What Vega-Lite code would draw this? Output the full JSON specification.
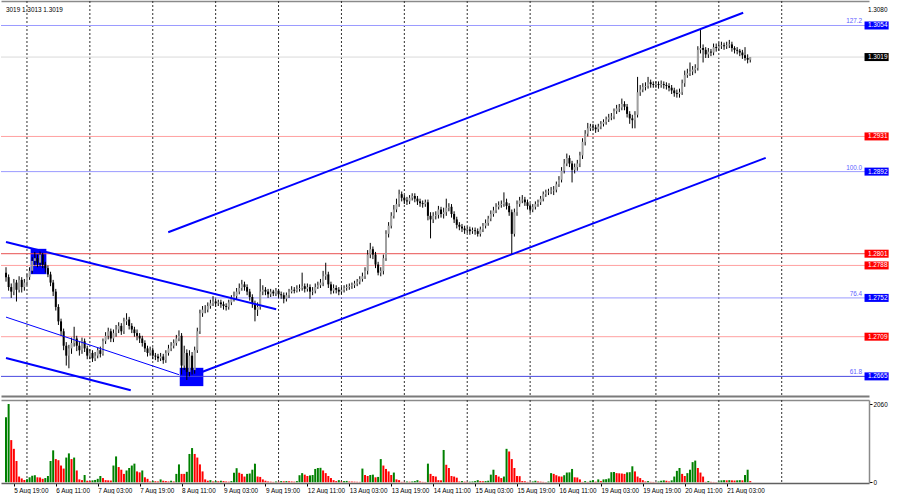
{
"$schema":"https://vega.github.io/schema/vega-lite/v6.json",
"padding":0,
"background":"white",
"spacing":2,
"config":{"font":"Liberation Sans","view":{"stroke":null},"axis":{"labelFont":"Liberation Sans","labelFontSize":6.4,"labelColor":"#000000","tickColor":"#000000","grid":false}},
"datasets":{
"seps":[{"i":8},{"i":32},{"i":56},{"i":80},{"i":104},{"i":128},{"i":152},{"i":176},{"i":200},{"i":224},{"i":248},{"i":272},{"i":296}],
"boxes":[{"i1":9.4,"i2":15.4,"p1":1.28064,"p2":1.27783},{"i1":66.3,"i2":75.3,"p1":1.26745,"p2":1.26542}],
"levels":[{"p":1.3054,"k":"fib","t":"127.2"},{"p":1.3019,"k":"cur"},{"p":1.2931,"k":"res"},{"p":1.2892,"k":"fib","t":"100.0"},{"p":1.2801,"k":"res2"},{"p":1.2788,"k":"res"},{"p":1.2752,"k":"fib","t":"76.4"},{"p":1.2709,"k":"res"},{"p":1.2665,"k":"fib618","t":"61.8"}],
"trend":[{"n":"up","i":61.9,"p":1.28248},{"n":"up","i":281.3,"p":1.30681},{"n":"lo","i":75.0,"p":1.26701},{"n":"lo","i":289.9,"p":1.29073},{"n":"dU","i":0,"p":1.2814},{"n":"dU","i":103.1,"p":1.27394},{"n":"dL","i":0,"p":1.26853},{"n":"dL","i":47.6,"p":1.26496},{"n":"thin","i":0,"p":1.27307},{"n":"thin","i":66.0,"p":1.26669}],
"bars":[
{"i":0,"o":1.2780,"h":1.2786,"l":1.2770,"c":1.2775,"v":1710,"g":1},
{"i":1,"o":1.2775,"h":1.2778,"l":1.2760,"c":1.2764,"v":2060,"g":1},
{"i":2,"o":1.2764,"h":1.2768,"l":1.2752,"c":1.2759,"v":1110,"g":0},
{"i":3,"o":1.2759,"h":1.2773,"l":1.2755,"c":1.2769,"v":880,"g":0},
{"i":4,"o":1.2769,"h":1.2772,"l":1.2748,"c":1.2761,"v":560,"g":0},
{"i":5,"o":1.2761,"h":1.2776,"l":1.2758,"c":1.2772,"v":150,"g":0},
{"i":6,"o":1.2772,"h":1.2775,"l":1.2758,"c":1.2764,"v":100,"g":0},
{"i":7,"o":1.2764,"h":1.2773,"l":1.2760,"c":1.2769,"v":60,"g":0},
{"i":8,"o":1.2769,"h":1.2778,"l":1.2766,"c":1.2775,"v":80,"g":1},
{"i":9,"o":1.2775,"h":1.2786,"l":1.2772,"c":1.2782,"v":130,"g":1},
{"i":10,"o":1.2782,"h":1.2797,"l":1.2779,"c":1.2793,"v":170,"g":1},
{"i":11,"o":1.2793,"h":1.2803,"l":1.2788,"c":1.2796,"v":185,"g":1},
{"i":12,"o":1.2796,"h":1.2800,"l":1.2786,"c":1.2791,"v":130,"g":0},
{"i":13,"o":1.2791,"h":1.2804,"l":1.2787,"c":1.2800,"v":125,"g":0},
{"i":14,"o":1.2800,"h":1.2802,"l":1.2785,"c":1.2789,"v":90,"g":0},
{"i":15,"o":1.2789,"h":1.2792,"l":1.2780,"c":1.2785,"v":110,"g":1},
{"i":16,"o":1.2785,"h":1.2788,"l":1.2775,"c":1.2778,"v":165,"g":1},
{"i":17,"o":1.2778,"h":1.2781,"l":1.2765,"c":1.2769,"v":560,"g":1},
{"i":18,"o":1.2769,"h":1.2772,"l":1.2754,"c":1.2759,"v":840,"g":1},
{"i":19,"o":1.2759,"h":1.2762,"l":1.2738,"c":1.2742,"v":610,"g":0},
{"i":20,"o":1.2742,"h":1.2745,"l":1.2722,"c":1.2726,"v":580,"g":0},
{"i":21,"o":1.2726,"h":1.2729,"l":1.2710,"c":1.2715,"v":440,"g":0},
{"i":22,"o":1.2715,"h":1.2718,"l":1.2694,"c":1.2699,"v":360,"g":0},
{"i":23,"o":1.2699,"h":1.2703,"l":1.2677,"c":1.2688,"v":650,"g":1},
{"i":24,"o":1.2688,"h":1.2700,"l":1.2674,"c":1.2696,"v":760,"g":1},
{"i":25,"o":1.2696,"h":1.2708,"l":1.2690,"c":1.2702,"v":610,"g":0},
{"i":26,"o":1.2702,"h":1.2720,"l":1.2698,"c":1.2707,"v":650,"g":1},
{"i":27,"o":1.2707,"h":1.2710,"l":1.2693,"c":1.2699,"v":310,"g":0},
{"i":28,"o":1.2699,"h":1.2703,"l":1.2688,"c":1.2694,"v":75,"g":0},
{"i":29,"o":1.2694,"h":1.2708,"l":1.2690,"c":1.2704,"v":55,"g":0},
{"i":30,"o":1.2704,"h":1.2707,"l":1.2692,"c":1.2696,"v":190,"g":1},
{"i":31,"o":1.2696,"h":1.2699,"l":1.2684,"c":1.2688,"v":40,"g":0},
{"i":32,"o":1.2688,"h":1.2695,"l":1.2684,"c":1.2691,"v":30,"g":0},
{"i":33,"o":1.2691,"h":1.2694,"l":1.2681,"c":1.2685,"v":50,"g":1},
{"i":34,"o":1.2685,"h":1.2692,"l":1.2682,"c":1.2688,"v":60,"g":1},
{"i":35,"o":1.2688,"h":1.2697,"l":1.2685,"c":1.2694,"v":90,"g":1},
{"i":36,"o":1.2694,"h":1.2698,"l":1.2686,"c":1.2690,"v":165,"g":1},
{"i":37,"o":1.2690,"h":1.2707,"l":1.2688,"c":1.2704,"v":110,"g":0},
{"i":38,"o":1.2704,"h":1.2714,"l":1.2701,"c":1.2710,"v":55,"g":0},
{"i":39,"o":1.2710,"h":1.2719,"l":1.2706,"c":1.2715,"v":50,"g":0},
{"i":40,"o":1.2715,"h":1.2718,"l":1.2703,"c":1.2707,"v":45,"g":0},
{"i":41,"o":1.2707,"h":1.2717,"l":1.2703,"c":1.2713,"v":440,"g":1},
{"i":42,"o":1.2713,"h":1.2722,"l":1.2709,"c":1.2717,"v":680,"g":1},
{"i":43,"o":1.2717,"h":1.2725,"l":1.2713,"c":1.2721,"v":400,"g":0},
{"i":44,"o":1.2721,"h":1.2724,"l":1.2711,"c":1.2715,"v":330,"g":0},
{"i":45,"o":1.2715,"h":1.2730,"l":1.2712,"c":1.2726,"v":220,"g":0},
{"i":46,"o":1.2726,"h":1.2735,"l":1.2722,"c":1.2728,"v":310,"g":1},
{"i":47,"o":1.2728,"h":1.2731,"l":1.2717,"c":1.2721,"v":375,"g":1},
{"i":48,"o":1.2721,"h":1.2724,"l":1.2713,"c":1.2717,"v":440,"g":1},
{"i":49,"o":1.2717,"h":1.2720,"l":1.2709,"c":1.2713,"v":490,"g":1},
{"i":50,"o":1.2713,"h":1.2717,"l":1.2705,"c":1.2710,"v":285,"g":0},
{"i":51,"o":1.2710,"h":1.2713,"l":1.2702,"c":1.2707,"v":260,"g":0},
{"i":52,"o":1.2707,"h":1.2710,"l":1.2698,"c":1.2702,"v":310,"g":1},
{"i":53,"o":1.2702,"h":1.2705,"l":1.2692,"c":1.2696,"v":130,"g":0},
{"i":54,"o":1.2696,"h":1.2699,"l":1.2687,"c":1.2691,"v":90,"g":0},
{"i":55,"o":1.2691,"h":1.2698,"l":1.2688,"c":1.2694,"v":20,"g":0},
{"i":56,"o":1.2694,"h":1.2697,"l":1.2684,"c":1.2688,"v":30,"g":1},
{"i":57,"o":1.2688,"h":1.2691,"l":1.2683,"c":1.2687,"v":25,"g":0},
{"i":58,"o":1.2687,"h":1.2690,"l":1.2681,"c":1.2685,"v":20,"g":0},
{"i":59,"o":1.2685,"h":1.2691,"l":1.2682,"c":1.2687,"v":75,"g":1},
{"i":60,"o":1.2687,"h":1.2690,"l":1.2679,"c":1.2683,"v":40,"g":0},
{"i":61,"o":1.2683,"h":1.2694,"l":1.2680,"c":1.2691,"v":30,"g":0},
{"i":62,"o":1.2691,"h":1.2700,"l":1.2688,"c":1.2696,"v":20,"g":0},
{"i":63,"o":1.2696,"h":1.2703,"l":1.2693,"c":1.2699,"v":40,"g":1},
{"i":64,"o":1.2699,"h":1.2706,"l":1.2696,"c":1.2702,"v":20,"g":0},
{"i":65,"o":1.2702,"h":1.2711,"l":1.2699,"c":1.2707,"v":220,"g":1},
{"i":66,"o":1.2707,"h":1.2716,"l":1.2704,"c":1.2710,"v":470,"g":1},
{"i":67,"o":1.2710,"h":1.2713,"l":1.2667,"c":1.2677,"v":220,"g":0},
{"i":68,"o":1.2677,"h":1.2699,"l":1.2672,"c":1.2691,"v":220,"g":0},
{"i":69,"o":1.2691,"h":1.2695,"l":1.2661,"c":1.2670,"v":275,"g":1},
{"i":70,"o":1.2670,"h":1.2694,"l":1.2665,"c":1.2688,"v":745,"g":1},
{"i":71,"o":1.2688,"h":1.2692,"l":1.2667,"c":1.2672,"v":900,"g":1},
{"i":72,"o":1.2672,"h":1.2698,"l":1.2668,"c":1.2694,"v":745,"g":0},
{"i":73,"o":1.2694,"h":1.2719,"l":1.2691,"c":1.2715,"v":650,"g":0},
{"i":74,"o":1.2715,"h":1.2739,"l":1.2712,"c":1.2735,"v":470,"g":0},
{"i":75,"o":1.2735,"h":1.2743,"l":1.2731,"c":1.2739,"v":285,"g":0},
{"i":76,"o":1.2739,"h":1.2744,"l":1.2735,"c":1.2739,"v":75,"g":0},
{"i":77,"o":1.2739,"h":1.2747,"l":1.2736,"c":1.2743,"v":40,"g":0},
{"i":78,"o":1.2743,"h":1.2750,"l":1.2740,"c":1.2746,"v":55,"g":1},
{"i":79,"o":1.2746,"h":1.2754,"l":1.2743,"c":1.2748,"v":20,"g":0},
{"i":80,"o":1.2748,"h":1.2751,"l":1.2742,"c":1.2746,"v":30,"g":1},
{"i":81,"o":1.2746,"h":1.2750,"l":1.2743,"c":1.2747,"v":25,"g":0},
{"i":82,"o":1.2747,"h":1.2750,"l":1.2741,"c":1.2745,"v":40,"g":1},
{"i":83,"o":1.2745,"h":1.2748,"l":1.2739,"c":1.2743,"v":30,"g":0},
{"i":84,"o":1.2743,"h":1.2746,"l":1.2738,"c":1.2742,"v":20,"g":0},
{"i":85,"o":1.2742,"h":1.2750,"l":1.2739,"c":1.2747,"v":15,"g":0},
{"i":86,"o":1.2747,"h":1.2755,"l":1.2744,"c":1.2751,"v":30,"g":1},
{"i":87,"o":1.2751,"h":1.2759,"l":1.2748,"c":1.2754,"v":250,"g":1},
{"i":88,"o":1.2754,"h":1.2763,"l":1.2750,"c":1.2759,"v":370,"g":1},
{"i":89,"o":1.2759,"h":1.2768,"l":1.2756,"c":1.2763,"v":250,"g":0},
{"i":90,"o":1.2763,"h":1.2772,"l":1.2760,"c":1.2767,"v":220,"g":0},
{"i":91,"o":1.2767,"h":1.2770,"l":1.2760,"c":1.2764,"v":150,"g":0},
{"i":92,"o":1.2764,"h":1.2767,"l":1.2755,"c":1.2759,"v":220,"g":1},
{"i":93,"o":1.2759,"h":1.2762,"l":1.2749,"c":1.2753,"v":230,"g":1},
{"i":94,"o":1.2753,"h":1.2756,"l":1.2741,"c":1.2746,"v":330,"g":1},
{"i":95,"o":1.2746,"h":1.2749,"l":1.2726,"c":1.2739,"v":490,"g":1},
{"i":96,"o":1.2739,"h":1.2747,"l":1.2732,"c":1.2742,"v":150,"g":0},
{"i":97,"o":1.2742,"h":1.2773,"l":1.2739,"c":1.2759,"v":140,"g":0},
{"i":98,"o":1.2759,"h":1.2766,"l":1.2755,"c":1.2761,"v":75,"g":0},
{"i":99,"o":1.2761,"h":1.2764,"l":1.2755,"c":1.2759,"v":40,"g":0},
{"i":100,"o":1.2759,"h":1.2762,"l":1.2752,"c":1.2756,"v":20,"g":0},
{"i":101,"o":1.2756,"h":1.2762,"l":1.2753,"c":1.2759,"v":15,"g":0},
{"i":102,"o":1.2759,"h":1.2761,"l":1.2754,"c":1.2757,"v":10,"g":0},
{"i":103,"o":1.2757,"h":1.2763,"l":1.2754,"c":1.2760,"v":20,"g":1},
{"i":104,"o":1.2760,"h":1.2762,"l":1.2752,"c":1.2756,"v":15,"g":0},
{"i":105,"o":1.2756,"h":1.2759,"l":1.2751,"c":1.2755,"v":30,"g":1},
{"i":106,"o":1.2755,"h":1.2758,"l":1.2746,"c":1.2751,"v":25,"g":0},
{"i":107,"o":1.2751,"h":1.2758,"l":1.2748,"c":1.2755,"v":30,"g":1},
{"i":108,"o":1.2755,"h":1.2762,"l":1.2752,"c":1.2759,"v":25,"g":0},
{"i":109,"o":1.2759,"h":1.2765,"l":1.2757,"c":1.2761,"v":20,"g":0},
{"i":110,"o":1.2761,"h":1.2764,"l":1.2757,"c":1.2760,"v":15,"g":0},
{"i":111,"o":1.2760,"h":1.2766,"l":1.2758,"c":1.2762,"v":30,"g":1},
{"i":112,"o":1.2762,"h":1.2767,"l":1.2759,"c":1.2763,"v":185,"g":1},
{"i":113,"o":1.2763,"h":1.2780,"l":1.2760,"c":1.2765,"v":240,"g":1},
{"i":114,"o":1.2765,"h":1.2768,"l":1.2758,"c":1.2762,"v":200,"g":0},
{"i":115,"o":1.2762,"h":1.2768,"l":1.2759,"c":1.2764,"v":165,"g":0},
{"i":116,"o":1.2764,"h":1.2767,"l":1.2751,"c":1.2759,"v":180,"g":1},
{"i":117,"o":1.2759,"h":1.2764,"l":1.2755,"c":1.2760,"v":190,"g":1},
{"i":118,"o":1.2760,"h":1.2768,"l":1.2757,"c":1.2764,"v":350,"g":1},
{"i":119,"o":1.2764,"h":1.2770,"l":1.2762,"c":1.2766,"v":375,"g":1},
{"i":120,"o":1.2766,"h":1.2773,"l":1.2763,"c":1.2769,"v":380,"g":1},
{"i":121,"o":1.2769,"h":1.2782,"l":1.2765,"c":1.2776,"v":310,"g":0},
{"i":122,"o":1.2776,"h":1.2791,"l":1.2772,"c":1.2778,"v":240,"g":0},
{"i":123,"o":1.2778,"h":1.2781,"l":1.2763,"c":1.2767,"v":165,"g":0},
{"i":124,"o":1.2767,"h":1.2770,"l":1.2756,"c":1.2760,"v":110,"g":0},
{"i":125,"o":1.2760,"h":1.2767,"l":1.2757,"c":1.2763,"v":55,"g":0},
{"i":126,"o":1.2763,"h":1.2766,"l":1.2757,"c":1.2761,"v":30,"g":0},
{"i":127,"o":1.2761,"h":1.2764,"l":1.2755,"c":1.2759,"v":55,"g":1},
{"i":128,"o":1.2759,"h":1.2764,"l":1.2756,"c":1.2761,"v":20,"g":0},
{"i":129,"o":1.2761,"h":1.2766,"l":1.2758,"c":1.2763,"v":30,"g":1},
{"i":130,"o":1.2763,"h":1.2767,"l":1.2760,"c":1.2764,"v":35,"g":1},
{"i":131,"o":1.2764,"h":1.2768,"l":1.2761,"c":1.2765,"v":20,"g":0},
{"i":132,"o":1.2765,"h":1.2769,"l":1.2762,"c":1.2766,"v":18,"g":0},
{"i":133,"o":1.2766,"h":1.2771,"l":1.2763,"c":1.2768,"v":15,"g":0},
{"i":134,"o":1.2768,"h":1.2773,"l":1.2765,"c":1.2770,"v":12,"g":0},
{"i":135,"o":1.2770,"h":1.2776,"l":1.2767,"c":1.2773,"v":10,"g":0},
{"i":136,"o":1.2773,"h":1.2780,"l":1.2770,"c":1.2776,"v":360,"g":1},
{"i":137,"o":1.2776,"h":1.2786,"l":1.2773,"c":1.2782,"v":190,"g":0},
{"i":138,"o":1.2782,"h":1.2805,"l":1.2778,"c":1.2800,"v":165,"g":0},
{"i":139,"o":1.2800,"h":1.2813,"l":1.2796,"c":1.2806,"v":190,"g":1},
{"i":140,"o":1.2806,"h":1.2809,"l":1.2795,"c":1.2800,"v":200,"g":1},
{"i":141,"o":1.2800,"h":1.2803,"l":1.2785,"c":1.2789,"v":130,"g":0},
{"i":142,"o":1.2789,"h":1.2792,"l":1.2777,"c":1.2780,"v":140,"g":1},
{"i":143,"o":1.2780,"h":1.2786,"l":1.2776,"c":1.2782,"v":610,"g":1},
{"i":144,"o":1.2782,"h":1.2800,"l":1.2778,"c":1.2796,"v":440,"g":0},
{"i":145,"o":1.2796,"h":1.2827,"l":1.2793,"c":1.2823,"v":350,"g":0},
{"i":146,"o":1.2823,"h":1.2836,"l":1.2819,"c":1.2832,"v":285,"g":0},
{"i":147,"o":1.2832,"h":1.2847,"l":1.2829,"c":1.2843,"v":190,"g":0},
{"i":148,"o":1.2843,"h":1.2855,"l":1.2840,"c":1.2850,"v":255,"g":1},
{"i":149,"o":1.2850,"h":1.2862,"l":1.2847,"c":1.2856,"v":75,"g":0},
{"i":150,"o":1.2856,"h":1.2872,"l":1.2853,"c":1.2867,"v":55,"g":0},
{"i":151,"o":1.2867,"h":1.2870,"l":1.2859,"c":1.2863,"v":10,"g":0},
{"i":152,"o":1.2863,"h":1.2866,"l":1.2856,"c":1.2860,"v":10,"g":0},
{"i":153,"o":1.2860,"h":1.2864,"l":1.2855,"c":1.2859,"v":20,"g":1},
{"i":154,"o":1.2859,"h":1.2866,"l":1.2856,"c":1.2863,"v":15,"g":0},
{"i":155,"o":1.2863,"h":1.2868,"l":1.2860,"c":1.2865,"v":20,"g":1},
{"i":156,"o":1.2865,"h":1.2868,"l":1.2858,"c":1.2862,"v":30,"g":1},
{"i":157,"o":1.2862,"h":1.2865,"l":1.2855,"c":1.2859,"v":55,"g":1},
{"i":158,"o":1.2859,"h":1.2862,"l":1.2853,"c":1.2857,"v":20,"g":0},
{"i":159,"o":1.2857,"h":1.2860,"l":1.2852,"c":1.2856,"v":10,"g":0},
{"i":160,"o":1.2856,"h":1.2861,"l":1.2853,"c":1.2858,"v":8,"g":0},
{"i":161,"o":1.2858,"h":1.2861,"l":1.2838,"c":1.2843,"v":490,"g":1},
{"i":162,"o":1.2843,"h":1.2847,"l":1.2818,"c":1.2839,"v":220,"g":0},
{"i":163,"o":1.2839,"h":1.2847,"l":1.2835,"c":1.2843,"v":165,"g":0},
{"i":164,"o":1.2843,"h":1.2848,"l":1.2839,"c":1.2844,"v":150,"g":0},
{"i":165,"o":1.2844,"h":1.2854,"l":1.2840,"c":1.2850,"v":55,"g":0},
{"i":166,"o":1.2850,"h":1.2853,"l":1.2841,"c":1.2845,"v":50,"g":0},
{"i":167,"o":1.2845,"h":1.2852,"l":1.2840,"c":1.2847,"v":850,"g":1},
{"i":168,"o":1.2847,"h":1.2862,"l":1.2843,"c":1.2852,"v":460,"g":0},
{"i":169,"o":1.2852,"h":1.2857,"l":1.2848,"c":1.2853,"v":375,"g":0},
{"i":170,"o":1.2853,"h":1.2856,"l":1.2841,"c":1.2845,"v":165,"g":0},
{"i":171,"o":1.2845,"h":1.2848,"l":1.2835,"c":1.2839,"v":150,"g":0},
{"i":172,"o":1.2839,"h":1.2842,"l":1.2829,"c":1.2833,"v":120,"g":0},
{"i":173,"o":1.2833,"h":1.2836,"l":1.2827,"c":1.2831,"v":20,"g":0},
{"i":174,"o":1.2831,"h":1.2834,"l":1.2825,"c":1.2829,"v":30,"g":1},
{"i":175,"o":1.2829,"h":1.2832,"l":1.2823,"c":1.2827,"v":15,"g":0},
{"i":176,"o":1.2827,"h":1.2831,"l":1.2824,"c":1.2828,"v":10,"g":0},
{"i":177,"o":1.2828,"h":1.2831,"l":1.2822,"c":1.2826,"v":15,"g":1},
{"i":178,"o":1.2826,"h":1.2830,"l":1.2823,"c":1.2827,"v":20,"g":1},
{"i":179,"o":1.2827,"h":1.2830,"l":1.2822,"c":1.2826,"v":30,"g":1},
{"i":180,"o":1.2826,"h":1.2829,"l":1.2820,"c":1.2823,"v":55,"g":1},
{"i":181,"o":1.2823,"h":1.2831,"l":1.2820,"c":1.2828,"v":30,"g":0},
{"i":182,"o":1.2828,"h":1.2835,"l":1.2825,"c":1.2832,"v":25,"g":0},
{"i":183,"o":1.2832,"h":1.2839,"l":1.2829,"c":1.2835,"v":30,"g":1},
{"i":184,"o":1.2835,"h":1.2843,"l":1.2832,"c":1.2840,"v":40,"g":1},
{"i":185,"o":1.2840,"h":1.2849,"l":1.2837,"c":1.2845,"v":200,"g":1},
{"i":186,"o":1.2845,"h":1.2853,"l":1.2842,"c":1.2849,"v":330,"g":1},
{"i":187,"o":1.2849,"h":1.2857,"l":1.2846,"c":1.2853,"v":190,"g":0},
{"i":188,"o":1.2853,"h":1.2859,"l":1.2850,"c":1.2855,"v":150,"g":0},
{"i":189,"o":1.2855,"h":1.2860,"l":1.2852,"c":1.2856,"v":110,"g":0},
{"i":190,"o":1.2856,"h":1.2869,"l":1.2853,"c":1.2858,"v":150,"g":1},
{"i":191,"o":1.2858,"h":1.2862,"l":1.2850,"c":1.2854,"v":880,"g":1},
{"i":192,"o":1.2854,"h":1.2857,"l":1.2843,"c":1.2847,"v":810,"g":0},
{"i":193,"o":1.2847,"h":1.2850,"l":1.2800,"c":1.2823,"v":610,"g":0},
{"i":194,"o":1.2823,"h":1.2851,"l":1.2820,"c":1.2847,"v":375,"g":0},
{"i":195,"o":1.2847,"h":1.2860,"l":1.2843,"c":1.2856,"v":165,"g":0},
{"i":196,"o":1.2856,"h":1.2864,"l":1.2853,"c":1.2860,"v":160,"g":0},
{"i":197,"o":1.2860,"h":1.2866,"l":1.2857,"c":1.2861,"v":30,"g":0},
{"i":198,"o":1.2861,"h":1.2864,"l":1.2854,"c":1.2858,"v":25,"g":0},
{"i":199,"o":1.2858,"h":1.2861,"l":1.2850,"c":1.2854,"v":10,"g":0},
{"i":200,"o":1.2854,"h":1.2857,"l":1.2846,"c":1.2850,"v":8,"g":0},
{"i":201,"o":1.2850,"h":1.2856,"l":1.2847,"c":1.2853,"v":20,"g":1},
{"i":202,"o":1.2853,"h":1.2859,"l":1.2850,"c":1.2856,"v":40,"g":1},
{"i":203,"o":1.2856,"h":1.2861,"l":1.2853,"c":1.2858,"v":20,"g":0},
{"i":204,"o":1.2858,"h":1.2865,"l":1.2855,"c":1.2862,"v":15,"g":0},
{"i":205,"o":1.2862,"h":1.2870,"l":1.2859,"c":1.2867,"v":10,"g":0},
{"i":206,"o":1.2867,"h":1.2872,"l":1.2864,"c":1.2869,"v":5,"g":0},
{"i":207,"o":1.2869,"h":1.2873,"l":1.2866,"c":1.2870,"v":20,"g":1},
{"i":208,"o":1.2870,"h":1.2875,"l":1.2867,"c":1.2871,"v":240,"g":1},
{"i":209,"o":1.2871,"h":1.2876,"l":1.2866,"c":1.2872,"v":220,"g":0},
{"i":210,"o":1.2872,"h":1.2881,"l":1.2869,"c":1.2878,"v":185,"g":0},
{"i":211,"o":1.2878,"h":1.2887,"l":1.2875,"c":1.2883,"v":155,"g":0},
{"i":212,"o":1.2883,"h":1.2897,"l":1.2880,"c":1.2893,"v":150,"g":0},
{"i":213,"o":1.2893,"h":1.2906,"l":1.2890,"c":1.2901,"v":185,"g":1},
{"i":214,"o":1.2901,"h":1.2912,"l":1.2898,"c":1.2907,"v":255,"g":1},
{"i":215,"o":1.2907,"h":1.2910,"l":1.2897,"c":1.2901,"v":260,"g":1},
{"i":216,"o":1.2901,"h":1.2904,"l":1.2880,"c":1.2894,"v":350,"g":1},
{"i":217,"o":1.2894,"h":1.2901,"l":1.2890,"c":1.2897,"v":130,"g":0},
{"i":218,"o":1.2897,"h":1.2905,"l":1.2893,"c":1.2901,"v":125,"g":0},
{"i":219,"o":1.2901,"h":1.2914,"l":1.2897,"c":1.2910,"v":75,"g":0},
{"i":220,"o":1.2910,"h":1.2929,"l":1.2906,"c":1.2925,"v":10,"g":0},
{"i":221,"o":1.2925,"h":1.2938,"l":1.2921,"c":1.2934,"v":30,"g":1},
{"i":222,"o":1.2934,"h":1.2946,"l":1.2931,"c":1.2940,"v":10,"g":0},
{"i":223,"o":1.2940,"h":1.2945,"l":1.2937,"c":1.2942,"v":40,"g":1},
{"i":224,"o":1.2942,"h":1.2945,"l":1.2938,"c":1.2941,"v":55,"g":1},
{"i":225,"o":1.2941,"h":1.2944,"l":1.2935,"c":1.2939,"v":15,"g":0},
{"i":226,"o":1.2939,"h":1.2945,"l":1.2936,"c":1.2942,"v":75,"g":1},
{"i":227,"o":1.2942,"h":1.2948,"l":1.2939,"c":1.2945,"v":30,"g":0},
{"i":228,"o":1.2945,"h":1.2950,"l":1.2942,"c":1.2947,"v":75,"g":1},
{"i":229,"o":1.2947,"h":1.2953,"l":1.2944,"c":1.2950,"v":80,"g":1},
{"i":230,"o":1.2950,"h":1.2956,"l":1.2947,"c":1.2952,"v":100,"g":1},
{"i":231,"o":1.2952,"h":1.2957,"l":1.2949,"c":1.2953,"v":265,"g":1},
{"i":232,"o":1.2953,"h":1.2962,"l":1.2950,"c":1.2959,"v":270,"g":1},
{"i":233,"o":1.2959,"h":1.2966,"l":1.2956,"c":1.2962,"v":240,"g":0},
{"i":234,"o":1.2962,"h":1.2967,"l":1.2958,"c":1.2963,"v":235,"g":0},
{"i":235,"o":1.2963,"h":1.2973,"l":1.2960,"c":1.2967,"v":230,"g":0},
{"i":236,"o":1.2967,"h":1.2970,"l":1.2960,"c":1.2964,"v":220,"g":0},
{"i":237,"o":1.2964,"h":1.2967,"l":1.2952,"c":1.2956,"v":260,"g":1},
{"i":238,"o":1.2956,"h":1.2959,"l":1.2945,"c":1.2951,"v":265,"g":1},
{"i":239,"o":1.2951,"h":1.2955,"l":1.2940,"c":1.2949,"v":420,"g":1},
{"i":240,"o":1.2949,"h":1.2959,"l":1.2940,"c":1.2955,"v":285,"g":0},
{"i":241,"o":1.2955,"h":1.2997,"l":1.2952,"c":1.2980,"v":150,"g":0},
{"i":242,"o":1.2980,"h":1.2988,"l":1.2976,"c":1.2983,"v":110,"g":0},
{"i":243,"o":1.2983,"h":1.2990,"l":1.2980,"c":1.2986,"v":55,"g":0},
{"i":244,"o":1.2986,"h":1.2991,"l":1.2982,"c":1.2987,"v":20,"g":0},
{"i":245,"o":1.2987,"h":1.2997,"l":1.2984,"c":1.2991,"v":30,"g":1},
{"i":246,"o":1.2991,"h":1.2994,"l":1.2985,"c":1.2989,"v":10,"g":0},
{"i":247,"o":1.2989,"h":1.2992,"l":1.2985,"c":1.2988,"v":8,"g":0},
{"i":248,"o":1.2988,"h":1.2992,"l":1.2985,"c":1.2989,"v":5,"g":0},
{"i":249,"o":1.2989,"h":1.2992,"l":1.2984,"c":1.2988,"v":20,"g":1},
{"i":250,"o":1.2988,"h":1.2993,"l":1.2985,"c":1.2989,"v":40,"g":1},
{"i":251,"o":1.2989,"h":1.2992,"l":1.2984,"c":1.2988,"v":50,"g":1},
{"i":252,"o":1.2988,"h":1.2991,"l":1.2983,"c":1.2987,"v":40,"g":0},
{"i":253,"o":1.2987,"h":1.2990,"l":1.2981,"c":1.2985,"v":20,"g":0},
{"i":254,"o":1.2985,"h":1.2988,"l":1.2978,"c":1.2982,"v":50,"g":1},
{"i":255,"o":1.2982,"h":1.2985,"l":1.2975,"c":1.2979,"v":150,"g":1},
{"i":256,"o":1.2979,"h":1.2983,"l":1.2974,"c":1.2978,"v":300,"g":1},
{"i":257,"o":1.2978,"h":1.2984,"l":1.2974,"c":1.2980,"v":375,"g":1},
{"i":258,"o":1.2980,"h":1.2994,"l":1.2977,"c":1.2990,"v":220,"g":0},
{"i":259,"o":1.2990,"h":1.3004,"l":1.2986,"c":1.2999,"v":165,"g":0},
{"i":260,"o":1.2999,"h":1.3006,"l":1.2996,"c":1.3001,"v":240,"g":1},
{"i":261,"o":1.3001,"h":1.3013,"l":1.2998,"c":1.3003,"v":330,"g":1},
{"i":262,"o":1.3003,"h":1.3009,"l":1.2999,"c":1.3005,"v":530,"g":1},
{"i":263,"o":1.3005,"h":1.3011,"l":1.3001,"c":1.3007,"v":570,"g":1},
{"i":264,"o":1.3007,"h":1.3031,"l":1.3004,"c":1.3027,"v":375,"g":0},
{"i":265,"o":1.3027,"h":1.3051,"l":1.3023,"c":1.3029,"v":255,"g":0},
{"i":266,"o":1.3029,"h":1.3033,"l":1.3013,"c":1.3027,"v":150,"g":0},
{"i":267,"o":1.3027,"h":1.3030,"l":1.3018,"c":1.3022,"v":10,"g":0},
{"i":268,"o":1.3022,"h":1.3029,"l":1.3018,"c":1.3025,"v":30,"g":1},
{"i":269,"o":1.3025,"h":1.3028,"l":1.3020,"c":1.3024,"v":10,"g":0},
{"i":270,"o":1.3024,"h":1.3034,"l":1.3021,"c":1.3030,"v":8,"g":0},
{"i":271,"o":1.3030,"h":1.3034,"l":1.3025,"c":1.3029,"v":5,"g":0},
{"i":272,"o":1.3029,"h":1.3035,"l":1.3026,"c":1.3031,"v":20,"g":1},
{"i":273,"o":1.3031,"h":1.3036,"l":1.3028,"c":1.3032,"v":50,"g":1},
{"i":274,"o":1.3032,"h":1.3035,"l":1.3027,"c":1.3031,"v":55,"g":1},
{"i":275,"o":1.3031,"h":1.3036,"l":1.3028,"c":1.3032,"v":50,"g":0},
{"i":276,"o":1.3032,"h":1.3038,"l":1.3029,"c":1.3033,"v":55,"g":1},
{"i":277,"o":1.3033,"h":1.3036,"l":1.3025,"c":1.3029,"v":50,"g":0},
{"i":278,"o":1.3029,"h":1.3031,"l":1.3023,"c":1.3027,"v":45,"g":0},
{"i":279,"o":1.3027,"h":1.3030,"l":1.3022,"c":1.3026,"v":50,"g":1},
{"i":280,"o":1.3026,"h":1.3028,"l":1.3020,"c":1.3024,"v":55,"g":1},
{"i":281,"o":1.3024,"h":1.3027,"l":1.3017,"c":1.3021,"v":50,"g":0},
{"i":282,"o":1.3021,"h":1.3030,"l":1.3015,"c":1.3018,"v":190,"g":1},
{"i":283,"o":1.3018,"h":1.3022,"l":1.3012,"c":1.3016,"v":330,"g":1},
{"i":284,"o":1.3016,"h":1.3019,"l":1.3013,"c":1.3019,"v":30,"g":0}
]},
"vconcat":[
{"width":868,"height":395,
"resolve":{"axis":{"x":"independent"}},
"layer":[
{"data":{"name":"seps"},"mark":{"type":"rule","color":"#303030","strokeDash":[2,2],"strokeWidth":1},
 "encoding":{"x":{"field":"i","type":"quantitative","scale":{"domain":[0,327.4],"nice":false,"zero":false},"axis":{"orient":"top","labels":false,"ticks":false,"domain":true,"domainColor":"#8a8a8a","domainWidth":1.5,"title":null}}}},
{"data":{"name":"boxes"},"mark":{"type":"rect","color":"#0000ff"},
 "encoding":{"x":{"field":"i1","type":"quantitative","axis":null},"x2":{"field":"i2"},
  "y":{"field":"p1","type":"quantitative","scale":{"domain":[1.26488,1.30756],"nice":false,"zero":false},
   "axis":{"orient":"right","values":[1.2655,1.268,1.2705,1.273,1.2755,1.278,1.2805,1.283,1.2855,1.288,1.2905,1.293,1.2955,1.298,1.3005,1.303,1.3055],"format":".4f","tickSize":3,"labelPadding":1,"domainColor":"#8a8a8a","domainWidth":1.5,"title":null,"labelBaseline":"middle"}},
  "y2":{"field":"p2"}}},
{"data":{"name":"levels"},"mark":{"type":"rule","strokeWidth":1},
 "encoding":{"y":{"field":"p","type":"quantitative","axis":null},
  "color":{"field":"k","type":"nominal","scale":{"domain":["fib","fib618","res","res2","cur"],"range":["#9a9aff","#4848e0","#ffa0a0","#e85050","#d9d9d9"]},"legend":null}}},
{"data":{"name":"bars"},"mark":{"type":"rule","color":"#000000","strokeWidth":1},
 "encoding":{"x":{"field":"i","type":"quantitative","axis":{"orient":"bottom","labels":false,"ticks":false,"domain":true,"domainColor":"#7a7a7a","domainWidth":2,"title":null}},
  "y":{"field":"l","type":"quantitative","axis":null},"y2":{"field":"h"}}},
{"data":{"name":"bars"},"mark":{"type":"bar","width":2,"orient":"vertical"},
 "encoding":{"x":{"field":"i","type":"quantitative","axis":null},"y":{"field":"o","type":"quantitative","axis":null},"y2":{"field":"c"},
  "color":{"condition":{"test":"datum.c >= datum.o","value":"#a0a0a0"},"value":"#000000"}}},
{"data":{"name":"trend"},"transform":[{"filter":"datum.n != 'thin'"}],"mark":{"type":"line","color":"#0000ff","strokeWidth":2},
 "encoding":{"x":{"field":"i","type":"quantitative","axis":null},"y":{"field":"p","type":"quantitative","axis":null},"detail":{"field":"n"}}},
{"data":{"name":"trend"},"transform":[{"filter":"datum.n == 'thin'"}],"mark":{"type":"line","color":"#0000ff","strokeWidth":1},
 "encoding":{"x":{"field":"i","type":"quantitative","axis":null},"y":{"field":"p","type":"quantitative","axis":null},"detail":{"field":"n"}}},
{"data":{"name":"levels"},"transform":[{"filter":"datum.t"}],"mark":{"type":"text","align":"right","baseline":"bottom","dy":-1,"fontSize":6.4,"color":"#6060ff"},
 "encoding":{"x":{"datum":326.7,"type":"quantitative","axis":null},"y":{"field":"p","type":"quantitative","axis":null},"text":{"field":"t"}}},
{"data":{"name":"levels"},"mark":{"type":"bar","orient":"horizontal","height":8},
 "encoding":{"x":{"datum":327.6,"type":"quantitative","axis":null},"x2":{"datum":336.8},"y":{"field":"p","type":"quantitative","axis":null},
  "fill":{"field":"k","type":"nominal","scale":{"domain":["fib","fib618","res","res2","cur"],"range":["#0000ff","#0000ff","#ff0000","#ff0000","#000000"]},"legend":null}}},
{"data":{"name":"levels"},"mark":{"type":"text","align":"left","baseline":"middle","fontSize":6.4,"color":"#ffffff"},
 "encoding":{"x":{"datum":328.9,"type":"quantitative","axis":null},"y":{"field":"p","type":"quantitative","axis":null},"text":{"field":"p","type":"quantitative","format":".4f"}}},
{"data":{"values":[{"t":"3019 1.3013 1.3019"}]},"mark":{"type":"text","align":"left","baseline":"middle","fontSize":6.4,"color":"#000000"},
 "encoding":{"x":{"datum":0,"type":"quantitative","axis":null},"y":{"datum":1.30717,"type":"quantitative","axis":null},"text":{"field":"t"}}},
{"data":{"values":[{"t":"1.3080"}]},"mark":{"type":"text","align":"left","baseline":"middle","fontSize":6.4,"color":"#000000"},
 "encoding":{"x":{"datum":328.9,"type":"quantitative","axis":null},"y":{"datum":1.30717,"type":"quantitative","axis":null},"text":{"field":"t"}}}
]},
{"width":868,"height":83,
"resolve":{"axis":{"x":"independent"}},
"layer":[
{"data":{"name":"seps"},"mark":{"type":"rule","color":"#303030","strokeDash":[2,2],"strokeWidth":1},
 "encoding":{"x":{"field":"i","type":"quantitative","scale":{"domain":[0,327.4],"nice":false,"zero":false},"axis":{"orient":"top","labels":false,"ticks":false,"domain":true,"domainColor":"#8a8a8a","domainWidth":1.5,"title":null}}}},
{"data":{"name":"bars"},"mark":{"type":"bar","width":2,"orient":"vertical"},
 "encoding":{"x":{"field":"i","type":"quantitative","axis":{"orient":"bottom","values":[3,19,35,51,67,83,99,115,131,147,163,179,195,211,227,243,259,275],
   "labelExpr":"['5 Aug 19:00','6 Aug 11:00','7 Aug 03:00','7 Aug 19:00','8 Aug 11:00','9 Aug 03:00','9 Aug 19:00','12 Aug 11:00','13 Aug 03:00','13 Aug 19:00','14 Aug 11:00','15 Aug 03:00','15 Aug 19:00','16 Aug 11:00','19 Aug 03:00','19 Aug 19:00','20 Aug 11:00','21 Aug 03:00'][round((datum.value-3)/16)]",
   "labelAlign":"left","labelBaseline":"top","labelPadding":1,"labelFlush":false,"labelOverlap":false,"labelBound":false,"tickSize":3,"domain":true,"domainColor":"#606060","domainWidth":1.5,"title":null}},
  "y":{"field":"v","type":"quantitative","stack":null,"scale":{"domain":[-20,2166],"nice":false,"zero":false},
   "axis":{"orient":"right","values":[0,2060],"format":"d","tickSize":3,"labelPadding":1,"domainColor":"#8a8a8a","domainWidth":1.5,"title":null}},
  "color":{"condition":{"test":"datum.g == 1","value":"#008000"},"value":"#ff0000"}}}
]}
]
}
